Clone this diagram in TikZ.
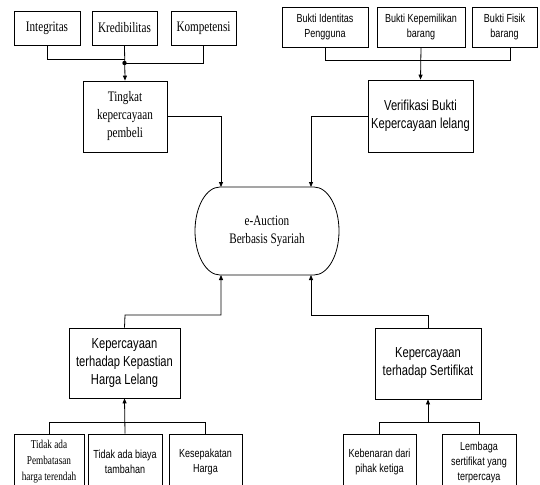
\documentclass[tikz,border=0pt]{standalone}
\usepackage{fontspec}
\usetikzlibrary{arrows.meta,calc}
\newfontfamily\serifF[FakeStretch=0.77]{Liberation Serif}
\newfontfamily\sansF[FakeStretch=0.77]{Liberation Sans}
\tikzset{
  box/.style={draw=black,line width=0.8pt,rectangle,align=center,inner sep=1pt},
  bigser/.style={font=\serifF\fontsize{14.5}{18}\selectfont},
  bigsans/.style={font=\sansF\fontsize{14.5}{18}\selectfont},
  smser/.style={font=\serifF\fontsize{12}{16}\selectfont},
  smsans/.style={font=\sansF\fontsize{11.7}{15}\selectfont},
  ln/.style={line width=0.8pt,draw=black},
  arr/.style={ln,-{Triangle[length=5pt,width=4pt]}},
}
\begin{document}
\begin{tikzpicture}[x=1pt,y=-1pt]
\useasboundingbox (0,0) rectangle (540,484);
\clip (0,0) rectangle (540,484);
% top-left
\node[box,bigser,minimum width=66pt,minimum height=34pt] (int) at (47,28) {Integritas};
\node[box,bigser,minimum width=65pt,minimum height=34pt] (kre) at (124.5,28) {Kredibilitas};
\node[box,bigser,minimum width=65pt,minimum height=34pt] (kom) at (203.5,28) {Kompetensi};
\node[box,bigser,minimum width=84pt,minimum height=71pt] (tk) at (125,116.5) {Tingkat\\kepercayaan\\pembeli};
\coordinate (jl) at (124.5,59);
\coordinate (jr) at (124.5,63);
\draw[ln] (int.south) |- (jl);
\draw[ln] (kom.south) |- (jr);
\draw[arr] (kre.south) -- (tk.north);
\fill (jr) circle (2.2pt);
% top-right
\node[box,smsans,minimum width=86pt,minimum height=40pt] (bid) at (325,27) {Bukti Identitas\\Pengguna};
\node[box,smsans,minimum width=88pt,minimum height=40pt] (bkp) at (421,27) {Bukti Kepemilikan\\barang};
\node[box,smsans,minimum width=65pt,minimum height=40pt] (bfs) at (504.5,27) {Bukti Fisik\\barang};
\node[box,bigsans,minimum width=105pt,minimum height=72pt] (ver) at (420.5,116) {Verifikasi Bukti\\Kepercayaan lelang};
\coordinate (jt) at (421,60);
\coordinate (jtr) at (510,60);
\draw[ln] (bid.south) |- (jt);
\draw[ln] (bfs.south -| jtr) -- (jtr) -- (jt);
\draw[arr] (bkp.south) -- (ver.north);
% center
\node[bigser,align=center,minimum width=144pt,minimum height=88pt] (auc) at (267,231) {e-Auction\\Berbasis Syariah};
\draw[ln] (220,187) -- (314,187) arc[start angle=-90,end angle=90,x radius=25,y radius=44]
  -- (220,275) arc[start angle=90,end angle=270,x radius=25,y radius=44] -- cycle;
\coordinate (inTL) at (221,187);
\coordinate (inTR) at (311,187);
\coordinate (inBL) at (221,275);
\coordinate (inBR) at (311,275);
\draw[arr] (tk.east) -| (inTL);
\draw[arr] (ver.west) -| (inTR);
% bottom-left
\node[box,bigsans,minimum width=111pt,minimum height=70pt] (kph) at (124.5,363) {Kepercayaan\\terhadap Kepastian\\Harga Lelang};
\node[box,smser,minimum width=70pt,minimum height=56pt] (b1) at (49,462) {Tidak ada\\Pembatasan\\harga terendah};
\node[box,smsans,minimum width=74pt,minimum height=56pt] (b2) at (125,462) {Tidak ada biaya\\tambahan};
\node[box,smsans,minimum width=73pt,minimum height=56pt] (b3) at (205.5,462) {Kesepakatan\\Harga};
\coordinate (hl) at (125,315);
\draw[arr] (kph.north) -- (hl) -| (inBL);
\coordinate (bl) at (125,422);
\draw[ln] (b1.north) |- (bl);
\draw[ln] (b3.north) |- (bl);
\draw[arr] (b2.north) -- (kph.south);
% bottom-right
\node[box,bigsans,minimum width=106pt,minimum height=71pt] (kps) at (428,363.5) {Kepercayaan\\terhadap Sertifikat};
\node[box,smsans,minimum width=73pt,minimum height=56pt] (c1) at (379.5,462) {Kebenaran dari\\pihak ketiga};
\node[box,smsans,minimum width=74pt,minimum height=56pt] (c2) at (479,462) {Lembaga\\sertifikat yang\\terpercaya};
\coordinate (hr) at (428,315);
\draw[arr] (kps.north) -- (hr) -| (inBR);
\coordinate (br) at (428,422);
\draw[ln] (c1.north) |- (br);
\draw[ln] (c2.north) |- (br);
\draw[arr] (br) -- (kps.south);
\end{tikzpicture}
\end{document}
